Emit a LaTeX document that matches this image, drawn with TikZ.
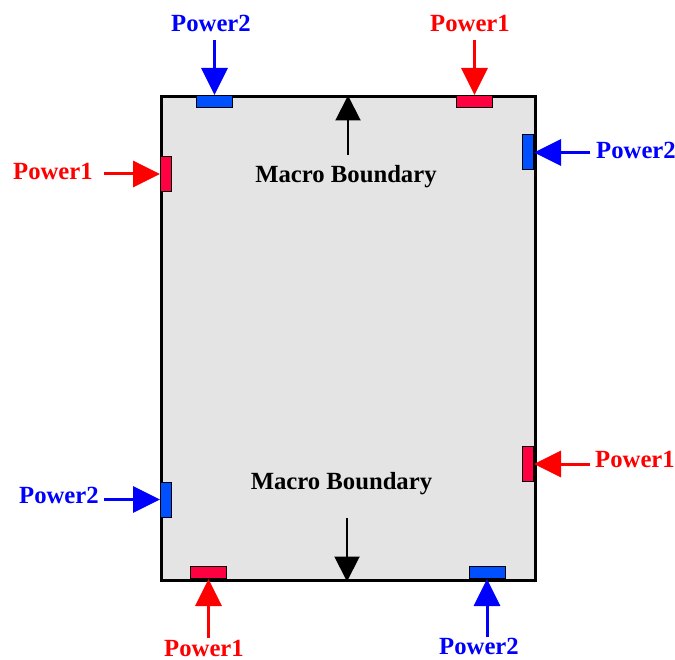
\documentclass[tikz,border=0pt]{standalone}
\usepackage{fontspec}
\setmainfont{Liberation Serif}
\usetikzlibrary{arrows.meta}
\definecolor{pinred}{RGB}{255,0,64}
\definecolor{pinblue}{RGB}{0,80,255}
\definecolor{boxgray}{RGB}{228,228,228}
\definecolor{feedred}{RGB}{255,0,0}
\definecolor{feedblue}{RGB}{0,0,255}
\begin{document}
\begin{tikzpicture}[x=1pt,y=-1pt,
  lbl/.style={font=\bfseries\fontsize{24.7}{30}\selectfont, inner sep=0, anchor=base},
  hpin/.style={draw=black, line width=1pt, inner sep=0, minimum width=36pt, minimum height=12pt},
  vpin/.style={draw=black, line width=1pt, inner sep=0, minimum width=11pt, minimum height=35pt},
  feed/.style={line width=3pt, -{Triangle[length=27pt,width=26pt]}},
  bound/.style={line width=2pt, -{Triangle[length=25pt,width=25pt]}}]
\useasboundingbox (0,0) rectangle (675,660);

% macro outline
\node[draw=black, fill=boxgray, line width=3pt, inner sep=0, anchor=north west,
      minimum width=373.5pt, minimum height=483pt] (box) at (160,95.5) {};

% power pins
\node[hpin, fill=pinblue] (pTL) at (214.5,101.5) {};
\node[hpin, fill=pinred]  (pTR) at (474.5,101.5) {};
\node[vpin, fill=pinred]  (pL1) at (166,174) {};
\node[vpin, fill=pinblue] (pR2) at (528,152.5) {};
\node[vpin, fill=pinblue] (pL2) at (166,499.5) {};
\node[vpin, fill=pinred]  (pR1) at (528,464) {};
\node[hpin, fill=pinred]  (pB1) at (208.5,572.5) {};
\node[hpin, fill=pinblue] (pB2) at (487,572.5) {};

% labels
\node[lbl, text=feedblue] (tTL) at (211,32) {Power2};
\node[lbl, text=feedred]  (tTR) at (470,32) {Power1};
\node[lbl, text=feedred]  (tL1) at (53,180) {Power1};
\node[lbl, text=feedblue] (tR2) at (636,158.5) {Power2};
\node[lbl, text=feedblue] (tL2) at (59,503.5) {Power2};
\node[lbl, text=feedred]  (tR1) at (635,467.5) {Power1};
\node[lbl, text=feedred]  (tB1) at (204,656) {Power1};
\node[lbl, text=feedblue] (tB2) at (479,654.5) {Power2};
\node[lbl, text=black] (mTop) at (346,182.5) {Macro Boundary};
\node[lbl, text=black] (mBot) at (341.5,489) {Macro Boundary};

% feed arrow tails
\coordinate (cTL) at (214.5,40);
\coordinate (cTR) at (474.5,40);
\coordinate (cL1) at (104,174);
\coordinate (cR2) at (590,152.5);
\coordinate (cL2) at (104,499.5);
\coordinate (cR1) at (590,464);
\coordinate (cB1) at (208.5,638);
\coordinate (cB2) at (487,637);
\coordinate (bT) at (348,155);
\coordinate (bB) at (347,518);

\draw[feed, feedblue] (cTL) -- (pTL.north);
\draw[feed, feedred]  (cTR) -- (pTR.north);
\draw[feed, feedred]  (cL1) -- (pL1.west);
\draw[feed, feedblue] (cR2) -- (pR2.east);
\draw[feed, feedblue] (cL2) -- (pL2.west);
\draw[feed, feedred]  (cR1) -- (pR1.east);
\draw[feed, feedred]  (cB1) -- (pB1.south);
\draw[feed, feedblue] (cB2) -- (pB2.south);

% boundary arrows
\draw[bound] (bT) -- (bT |- box.north);
\draw[bound] (bB) -- (bB |- box.south);
\end{tikzpicture}
\end{document}
